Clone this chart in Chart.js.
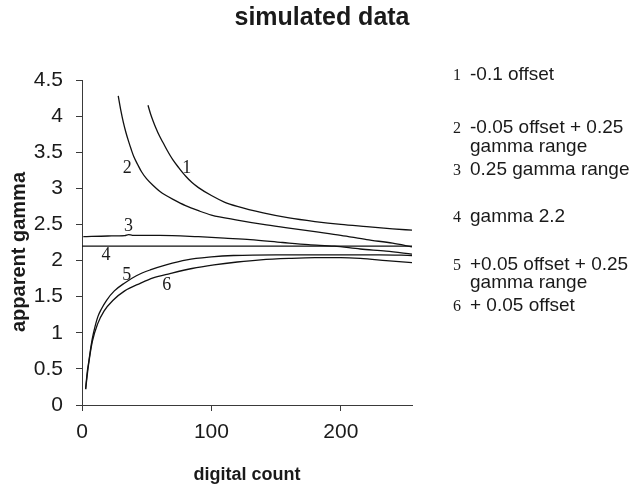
<!DOCTYPE html>
<html><head><meta charset="utf-8">
<script src="https://cdn.jsdelivr.net/npm/chart.js@4.4.1/dist/chart.umd.min.js"></script>
<style>html,body{margin:0;padding:0;background:#fff}#wrap{width:638px;height:487px;position:relative}</style>
</head><body><div id="wrap"><canvas id="c" width="638" height="487"></canvas></div>
<script>
// ---- data ----
const curve1X = [51, 53, 55, 57, 60, 63, 66, 70, 75, 80, 85, 90, 100, 110, 120, 140, 160, 180, 200, 220, 240, 255];
const curve1Y = [4.15, 4.03, 3.93, 3.84, 3.72, 3.62, 3.52, 3.40, 3.28, 3.17, 3.08, 3.01, 2.90, 2.81, 2.75, 2.66, 2.59, 2.54, 2.50, 2.47, 2.44, 2.42];

const curve2X = [28, 30, 32, 34, 36, 38, 40, 43, 46, 50, 55, 60, 65, 70, 80, 90, 100, 120, 140, 160, 180, 200, 220, 240, 255];
const curve2Y = [4.28, 4.08, 3.91, 3.77, 3.65, 3.54, 3.44, 3.33, 3.23, 3.13, 3.04, 2.96, 2.90, 2.85, 2.76, 2.69, 2.63, 2.56, 2.50, 2.45, 2.40, 2.35, 2.29, 2.24, 2.19];

const curve3X = [1, 20, 33, 36, 39, 60, 90, 110, 130, 155, 175, 195, 215, 235, 255];
const curve3Y = [2.33, 2.34, 2.345, 2.36, 2.35, 2.35, 2.33, 2.31, 2.29, 2.25, 2.22, 2.20, 2.16, 2.13, 2.09];

const curve4X = [0, 255];
const curve4Y = [2.2, 2.2];

const curve5X = [2.8, 4, 5.4, 7, 8.8, 12.2, 15, 19, 25, 33, 42, 52.7, 65, 81, 100, 117, 150, 200, 230, 255];
const curve5Y = [0.22, 0.45, 0.62, 0.82, 0.99, 1.22, 1.33, 1.45, 1.58, 1.69, 1.79, 1.87, 1.94, 2.01, 2.05, 2.07, 2.08, 2.08, 2.08, 2.07];

const curve6X = [2.8, 5, 8, 12, 17, 24, 33, 45, 55, 68, 85, 102, 120, 138, 160, 180, 200, 215, 235, 255];
const curve6Y = [0.22, 0.55, 0.88, 1.12, 1.30, 1.45, 1.58, 1.685, 1.76, 1.82, 1.89, 1.94, 1.98, 2.01, 2.03, 2.04, 2.04, 2.03, 2.00, 1.97];

const seriesNumbers = ['1', '2', '3', '4', '5', '6'];
const seriesNames = [
  ['-0.1 offset'],
  ['-0.05 offset + 0.25', 'gamma range'],
  ['0.25 gamma range'],
  ['gamma 2.2'],
  ['+0.05 offset + 0.25', 'gamma range'],
  ['+ 0.05 offset']
];
// curve number labels, anchored in data coordinates
const curveLabelX = [81, 35, 36, 18.5, 34.5, 65.5];
const curveLabelY = [3.28, 3.28, 2.47, 2.07, 1.80, 1.66];

const xTicks = [0, 100, 200];
const xTickLabels = ['0', '100', '200'];
const yTicks = [0, 0.5, 1, 1.5, 2, 2.5, 3, 3.5, 4, 4.5];
const yTickLabels = ['0', '0.5', '1', '1.5', '2', '2.5', '3', '3.5', '4', '4.5'];

const titleText = 'simulated data';
const xTitle = 'digital count';
const yTitle = 'apparent gamma';

// ---- chart ----
const SANS = '"Liberation Sans", Arial, Helvetica, sans-serif';
const SERIF = '"Liberation Serif", "Times New Roman", serif';
const INK = '#1a1a1a';
const AXIS = '#3a3a3a';

const curves = [[curve1X, curve1Y], [curve2X, curve2Y], [curve3X, curve3Y], [curve4X, curve4Y], [curve5X, curve5Y], [curve6X, curve6Y]];
const datasets = curves.map((c, k) => ({
  label: seriesNumbers[k],
  data: c[0].map((x, i) => ({x: x, y: c[1][i]})),
  showLine: true,
  borderColor: '#111',
  borderWidth: 1.3,
  pointRadius: 0,
  cubicInterpolationMode: 'monotone',
  fill: false
}));

const textPlugin = {
  id: 'texts',
  afterDraw(chart) {
    const ctx = chart.ctx;
    const xs = chart.scales.x, ys = chart.scales.y;
    ctx.save();
    ctx.fillStyle = INK;
    // title
    ctx.font = 'bold 25px ' + SANS;
    ctx.textAlign = 'center';
    ctx.textBaseline = 'middle';
    ctx.fillText(titleText, 322, 18);
    // y title
    ctx.save();
    ctx.translate(19, 252);
    ctx.rotate(-Math.PI / 2);
    ctx.font = 'bold 20px ' + SANS;
    ctx.fillText(yTitle, 0, 0);
    ctx.restore();
    // curve labels
    ctx.font = '18px ' + SERIF;
    for (let i = 0; i < seriesNumbers.length; i++) {
      ctx.fillText(seriesNumbers[i], xs.getPixelForValue(curveLabelX[i]), ys.getPixelForValue(curveLabelY[i]));
    }
    // legend
    const rowY = [[75], [128, 147], [170], [217], [265, 283], [306]];
    for (let i = 0; i < seriesNumbers.length; i++) {
      ctx.font = '16px ' + SERIF;
      ctx.textAlign = 'center';
      ctx.fillText(seriesNumbers[i], 457, rowY[i][0] + 1);
      ctx.font = '19px ' + SANS;
      ctx.textAlign = 'left';
      seriesNames[i].forEach((t, j) => ctx.fillText(t, 470, rowY[i][j]));
    }
    ctx.restore();
  }
};

new Chart(document.getElementById('c'), {
  type: 'scatter',
  data: {datasets: datasets},
  options: {
    responsive: false,
    animation: false,
    layout: {padding: {top: 80, right: 226, left: 0, bottom: 0}},
    plugins: {legend: {display: false}, tooltip: {enabled: false}, title: {display: false}},
    scales: {
      x: {
        type: 'linear', min: 0, max: 255,
        afterBuildTicks: s => { s.ticks = xTicks.map(v => ({value: v})); },
        afterFit: s => { s.height = 82; },
        ticks: {
          callback: (v, i) => xTickLabels[i],
          color: INK, padding: 9, maxRotation: 0, autoSkip: false,
          font: {family: SANS, size: 21}
        },
        grid: {drawOnChartArea: false, drawTicks: true, tickLength: 6, color: AXIS},
        border: {display: true, color: AXIS, width: 1},
        title: {display: true, text: xTitle, color: INK, font: {family: SANS, size: 18, weight: 'bold'}, padding: {top: 0, bottom: 1}}
      },
      y: {
        type: 'linear', min: 0, max: 4.5,
        afterBuildTicks: s => { s.ticks = yTicks.map(v => ({value: v})); },
        afterFit: s => { s.width = 82; },
        ticks: {
          callback: (v, i) => yTickLabels[i],
          color: INK, padding: 13, autoSkip: false,
          font: {family: SANS, size: 21}
        },
        grid: {drawOnChartArea: false, drawTicks: true, tickLength: 6, color: AXIS},
        border: {display: true, color: AXIS, width: 1}
      }
    }
  },
  plugins: [textPlugin]
});
</script>
</body></html>
